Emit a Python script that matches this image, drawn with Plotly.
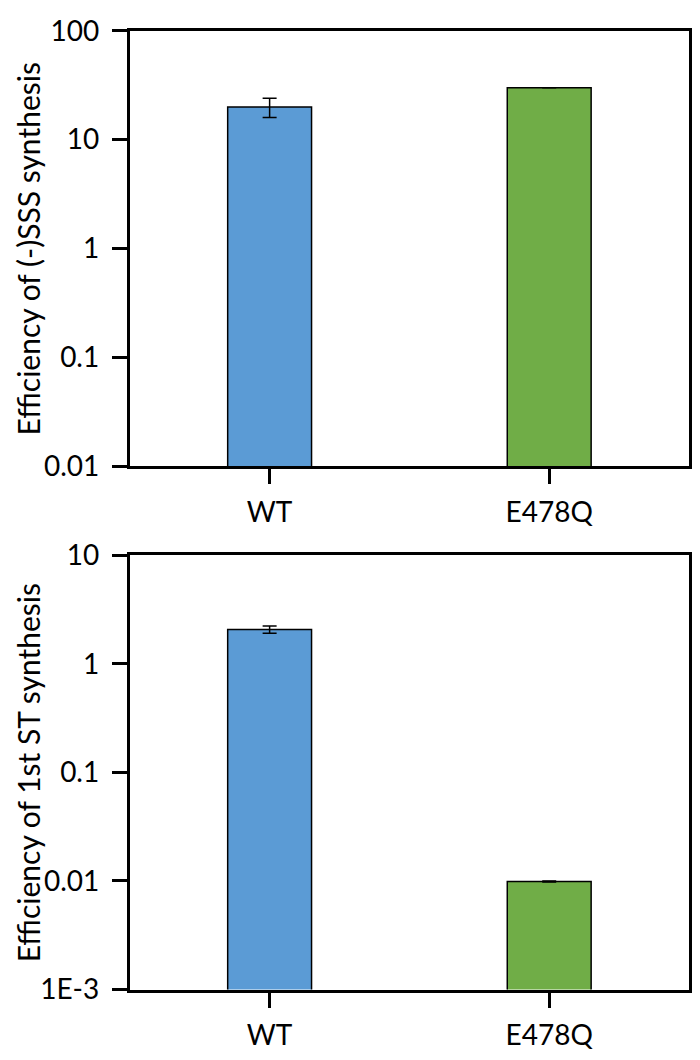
import plotly.graph_objects as go

categories = ["WT", "E478Q"]
sss_values = [20, 30]
sss_errors = [4, 0]
st_values = [2.07, 0.0099]
st_errors = [0.16, 0.0001]
bar_colors = ["#5B9BD5", "#70AD47"]

top_tickvals = [0.01, 0.1, 1, 10, 100]
top_ticktext = ["0.01", "0.1", "1", "10", "100"]
bot_tickvals = [0.001, 0.01, 0.1, 1, 10]
bot_ticktext = ["1E-3", "0.01", "0.1", "1", "10"]

# page body has an 8px default margin; figure sized to fit the 700x1060 window exactly
OFF = 8
W, H = 700 - 2 * OFF, 1060 - 2 * OFF
FONT = "Lato"


def px_x(x):
    return (x - OFF) / W


def px_y(y):
    return 1 - (y - OFF) / H


fig = go.Figure()
fig.add_trace(go.Bar(
    x=categories, y=sss_values, xaxis="x", yaxis="y", width=0.3,
    marker=dict(color=bar_colors, line=dict(color="black", width=1.5)),
    error_y=dict(type="data", array=sss_errors, color="black", thickness=1.5, width=7),
    showlegend=False))
fig.add_trace(go.Bar(
    x=categories, y=st_values, xaxis="x2", yaxis="y2", width=0.3,
    marker=dict(color=bar_colors, line=dict(color="black", width=1.5)),
    error_y=dict(type="data", array=st_errors, color="black", thickness=1.5, width=7),
    showlegend=False))

x_dom = [px_x(130), px_x(690)]
top_dom = [px_y(463), px_y(13)]
bot_dom = [px_y(1004), px_y(555)]

axis_common = dict(showline=True, linecolor="black", linewidth=3, mirror=True,
                   ticks="outside", ticklen=15, tickwidth=3, tickcolor="black",
                   showgrid=False, zeroline=False,
                   tickfont=dict(family=FONT, size=28, color="black"))

fig.update_layout(
    width=W, height=H, margin=dict(l=0, r=0, t=0, b=0),
    paper_bgcolor="white", plot_bgcolor="white",
    font=dict(family=FONT, color="black"),
    xaxis=dict(domain=x_dom, anchor="y", ticklabelstandoff=4, **axis_common),
    yaxis=dict(domain=top_dom, anchor="x", type="log", range=[-2, 2],
               tickvals=top_tickvals, ticktext=top_ticktext,
               ticklabelstandoff=7, **axis_common),
    xaxis2=dict(domain=x_dom, anchor="y2", ticklabelstandoff=4, **axis_common),
    yaxis2=dict(domain=bot_dom, anchor="x2", type="log", range=[-3, 1],
                tickvals=bot_tickvals, ticktext=bot_ticktext,
                ticklabelstandoff=7, **axis_common),
    annotations=[
        dict(text="Efficiency of (-)SSS synthesis", textangle=-90,
             x=px_x(28), y=(top_dom[0] + top_dom[1]) / 2, xref="paper", yref="paper",
             xanchor="center", yanchor="middle", showarrow=False,
             font=dict(family=FONT, size=30, color="black")),
        dict(text="Efficiency of 1st ST synthesis", textangle=-90,
             x=px_x(28), y=(bot_dom[0] + bot_dom[1]) / 2, xref="paper", yref="paper",
             xanchor="center", yanchor="middle", showarrow=False,
             font=dict(family=FONT, size=30, color="black")),
    ],
)

fig.write_html("out.html")
